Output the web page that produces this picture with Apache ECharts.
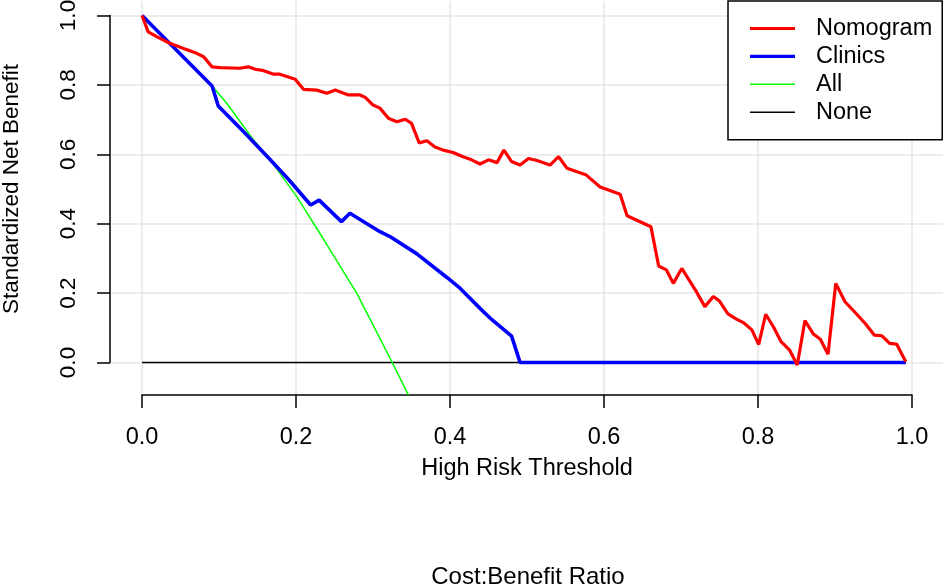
<!DOCTYPE html>
<html>
<head>
<meta charset="utf-8">
<script src="https://cdn.jsdelivr.net/npm/echarts@6/dist/echarts.min.js"></script>
<style>
html, body { margin: 0; padding: 0; background: #fff; }
#chart { width: 945px; height: 586px; }
</style>
</head>
<body>
<div id="chart"></div>
<script>
// tick positions on both axes
var tickValues = [0, 0.2, 0.4, 0.6, 0.8, 1.0];

// Nomogram curve
var nomogramX = [0, 0.008, 0.019, 0.036, 0.054, 0.071, 0.080, 0.091, 0.101, 0.127, 0.138, 0.147, 0.158, 0.171, 0.179, 0.199,
	0.210, 0.227, 0.240, 0.251, 0.268, 0.283, 0.290, 0.300, 0.309, 0.320, 0.331, 0.342, 0.350, 0.360, 0.370, 0.380, 0.391,
	0.404, 0.417, 0.428, 0.439, 0.450, 0.461, 0.470, 0.480, 0.491, 0.502, 0.513, 0.530, 0.541, 0.552, 0.577, 0.595, 0.621,
	0.630, 0.661, 0.671, 0.681, 0.690, 0.701, 0.720, 0.731, 0.742, 0.750, 0.761, 0.772, 0.781, 0.792, 0.801, 0.810, 0.820,
	0.830, 0.841, 0.851, 0.861, 0.872, 0.881, 0.891, 0.901, 0.913, 0.925, 0.939, 0.951, 0.961, 0.971, 0.980, 0.992];
var nomogramY = [1.0, 0.953, 0.939, 0.920, 0.905, 0.891, 0.881, 0.852, 0.850, 0.848, 0.852, 0.845, 0.841, 0.831, 0.831, 0.816,
	0.787, 0.785, 0.776, 0.785, 0.771, 0.771, 0.764, 0.742, 0.733, 0.704, 0.694, 0.701, 0.689, 0.633, 0.639, 0.622, 0.612,
	0.605, 0.593, 0.584, 0.572, 0.584, 0.576, 0.612, 0.579, 0.569, 0.588, 0.582, 0.569, 0.593, 0.560, 0.540, 0.506, 0.485,
	0.423, 0.391, 0.278, 0.267, 0.228, 0.271, 0.204, 0.161, 0.190, 0.177, 0.140, 0.125, 0.115, 0.094, 0.052, 0.139, 0.103,
	0.060, 0.036, -0.007, 0.121, 0.082, 0.067, 0.024, 0.228, 0.175, 0.147, 0.113, 0.079, 0.077, 0.055, 0.053, 0.002];

// Clinics curve
var clinicsX = [0, 0.091, 0.099, 0.132, 0.166, 0.191, 0.219, 0.230, 0.259, 0.270, 0.309, 0.322, 0.357, 0.396, 0.413, 0.439,
	0.454, 0.480, 0.491, 0.992];
var clinicsY = [1.0, 0.797, 0.739, 0.665, 0.586, 0.526, 0.454, 0.468, 0.406, 0.430, 0.377, 0.363, 0.313, 0.245, 0.214, 0.156,
	0.124, 0.076, 0.0, 0.0];

// treat all
var allX = [0, 0.091, 0.110, 0.145, 0.166, 0.184, 0.201, 0.235, 0.279, 0.325, 0.346];
var allY = [1.0, 0.797, 0.747, 0.641, 0.586, 0.530, 0.478, 0.358, 0.199, 0.0, -0.094];

// treat none
var noneX = [0, 0.992];
var noneY = [0, 0];

function pairs(xs, ys) {
	return xs.map(function (x, i) { return [x, ys[i]]; });
}

var font = '"Liberation Sans", Arial, sans-serif';
var thickIcon = 'path://M0 0H45V3.2H0Z';
var thinIcon = 'path://M0 0H45V1.5H0Z';
var myChart = echarts.init(document.getElementById('chart'));

var option = {
	animation: false,
	backgroundColor: '#fff',
	textStyle: { fontFamily: font, color: '#000' },
	grid: [
		// full plot region, holds the curves and the grid lines
		{ left: 111, top: 1, width: 832, height: 394, containLabel: false, outerBoundsMode: 'none' },
		// 0..1 box, holds the axis lines, ticks and labels
		{ left: 142, top: 15.5, width: 770, height: 347, containLabel: false, outerBoundsMode: 'none' }
	],
	xAxis: [
		{
			gridIndex: 0, type: 'value', min: -0.0403, max: 1.0403,
			axisLine: { show: false, onZero: false },
			axisTick: { show: false, customValues: tickValues },
			axisLabel: { show: false, customValues: tickValues },
			splitLine: { show: true, lineStyle: { color: '#e6e6e6', width: 1.5 } }
		},
		{
			gridIndex: 1, type: 'value', min: 0, max: 1, interval: 0.2,
			position: 'bottom', offset: 32.5,
			axisLine: { show: true, onZero: false, lineStyle: { color: '#000', width: 1.5 } },
			axisTick: { show: true, inside: false, length: 13, lineStyle: { color: '#000', width: 1.5 } },
			axisLabel: {
				fontFamily: font, fontSize: 23.5, color: '#000', margin: 30.5,
				formatter: function (v) { return v.toFixed(1); }
			},
			splitLine: { show: false },
			name: 'High Risk Threshold', nameLocation: 'middle', nameGap: 62,
			nameTextStyle: { fontFamily: font, fontSize: 23.5, color: '#000' }
		}
	],
	yAxis: [
		{
			gridIndex: 0, type: 'value', min: -0.0937, max: 1.0418,
			axisLine: { show: false, onZero: false },
			axisTick: { show: false, customValues: tickValues },
			axisLabel: { show: false, customValues: tickValues },
			splitLine: { show: true, lineStyle: { color: '#e6e6e6', width: 1.5 } }
		},
		{
			gridIndex: 1, type: 'value', min: 0, max: 1, interval: 0.2,
			position: 'left', offset: 32,
			axisLine: { show: true, onZero: false, lineStyle: { color: '#000', width: 1.5 } },
			axisTick: { show: true, inside: false, length: 13, lineStyle: { color: '#000', width: 1.5 } },
			axisLabel: {
				fontFamily: font, fontSize: 22.5, color: '#000', margin: 30, rotate: 90,
				formatter: function (v) { return v.toFixed(1); }
			},
			splitLine: { show: false },
			name: 'Standardized Net Benefit', nameLocation: 'middle', nameGap: 87, nameRotate: 90,
			nameTextStyle: { fontFamily: font, fontSize: 22.5, color: '#000' }
		}
	],
	legend: {
		data: [
			{ name: 'Nomogram', icon: thickIcon },
			{ name: 'Clinics', icon: thickIcon },
			{ name: 'All', icon: thinIcon },
			{ name: 'None', icon: thinIcon }
		],
		orient: 'vertical',
		left: 728, top: 1,
		padding: [15.5, 10, 15.5, 22],
		itemWidth: 45, itemHeight: 14, itemGap: 3.9,
		symbolKeepAspect: true,
		backgroundColor: '#fff',
		borderColor: '#000', borderWidth: 1.5, borderRadius: 0,
		textStyle: { fontFamily: font, fontSize: 23.5, color: '#000', padding: [0, 0, 0, 16] }
	},
	graphic: [{
		type: 'text', x: 528, y: 577,
		style: { text: 'Cost:Benefit Ratio', fontFamily: font, fontSize: 24, fill: '#000', align: 'center', verticalAlign: 'middle' }
	}],
	series: [
		{
			name: 'Nomogram', type: 'line', xAxisIndex: 0, yAxisIndex: 0, z: 5,
			symbol: 'none', data: pairs(nomogramX, nomogramY),
			lineStyle: { color: '#ff0000', width: 3.2 }, itemStyle: { color: '#ff0000' }
		},
		{
			name: 'Clinics', type: 'line', xAxisIndex: 0, yAxisIndex: 0, z: 4,
			symbol: 'none', data: pairs(clinicsX, clinicsY),
			lineStyle: { color: '#0000ff', width: 3.6 }, itemStyle: { color: '#0000ff' }
		},
		{
			name: 'All', type: 'line', xAxisIndex: 0, yAxisIndex: 0, z: 3,
			symbol: 'none', data: pairs(allX, allY),
			lineStyle: { color: '#00ff00', width: 1.5 }, itemStyle: { color: '#00ff00' }
		},
		{
			name: 'None', type: 'line', xAxisIndex: 0, yAxisIndex: 0, z: 2,
			symbol: 'none', data: pairs(noneX, noneY),
			lineStyle: { color: '#000000', width: 1.5 }, itemStyle: { color: '#000000' }
		}
	]
};

myChart.setOption(option);
window.addEventListener('resize', function () {
	myChart.resize();
});
</script>
</body>
</html>
